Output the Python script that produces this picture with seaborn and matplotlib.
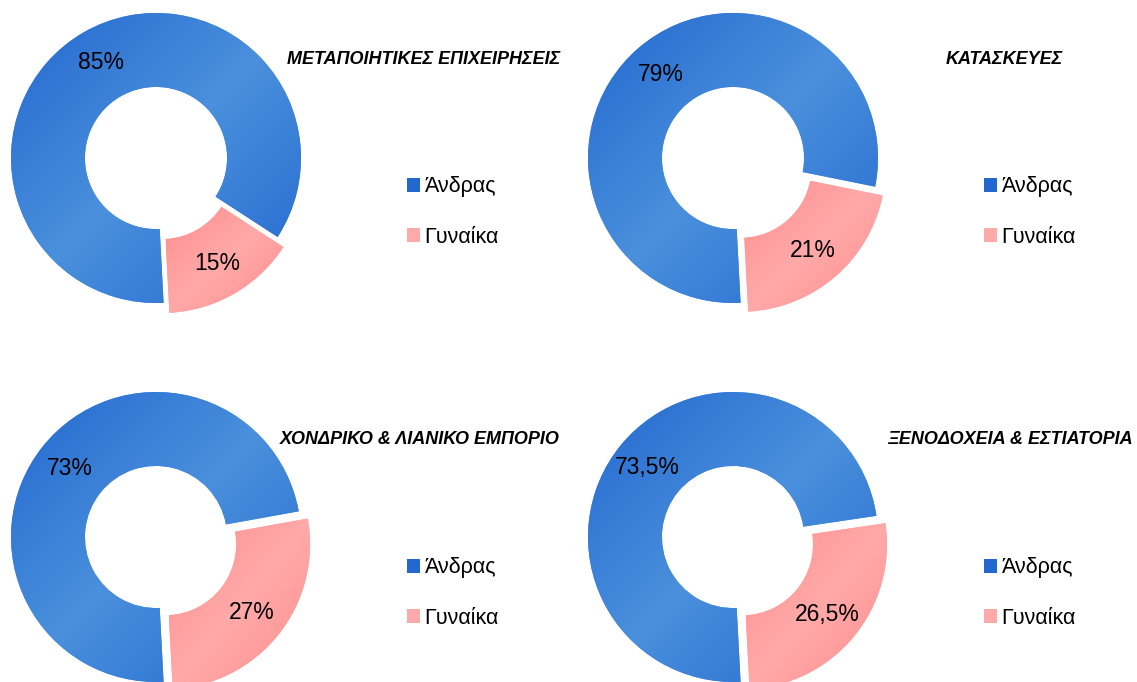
import numpy as np
import matplotlib
matplotlib.use("Agg")
import matplotlib.pyplot as plt
import seaborn as sns
from matplotlib.patches import Patch

# --- Data ---
SECTORS = [
    "ΜΕΤΑΠΟΙΗΤΙΚΕΣ ΕΠΙΧΕΙΡΗΣΕΙΣ",
    "ΚΑΤΑΣΚΕΥΕΣ",
    "ΧΟΝΔΡΙΚΟ & ΛΙΑΝΙΚΟ ΕΜΠΟΡΙΟ",
    "ΞΕΝΟΔΟΧΕΙΑ & ΕΣΤΙΑΤΟΡΙΑ",
]
GENDERS = ["Άνδρας", "Γυναίκα"]
MEN = [85, 79, 73, 73.5]
WOMEN = [15, 21, 27, 26.5]

# --- Styling / layout (pixels on a 1137x682 canvas) ---
W, H = 1137, 682
BLUE = ("#2368cf", "#4a90dc")   # dark, light
PINK = ("#ff8c8c", "#ffa9a9")
RADIUS_PX = 145
CENTERS = [(156, 158), (733, 158), (156, 537), (733, 537)]
TITLE_POS = [(560, 60), (1063, 60), (560, 440), (1133, 440)]
LEGEND_POS = [(407, 212), (984, 212), (407, 593), (984, 593)]

sns.set_theme(style="white")
plt.rcParams["font.family"] = ["Liberation Sans", "DejaVu Sans"]
plt.rcParams["text.color"] = "black"


def fmt_pct(pct):
    s = f"{pct:.1f}".rstrip("0").rstrip(".")
    return s.replace(".", ",") + "%"


def fill_gradient(ax, wedge, colors):
    """Axial diagonal gradient clipped to the wedge (dark - light - dark)."""
    ext = wedge.get_path().get_extents()
    x0, y0, x1, y1 = ext.x0, ext.y0, ext.x1, ext.y1
    n = 200
    gx, gy = np.meshgrid(np.linspace(0, 1, n), np.linspace(0, 1, n))
    t = (gx + (1 - gy)) / 2  # top-left -> bottom-right
    val = np.abs(2 * t - 1)
    cmap = sns.blend_palette([colors[1], colors[0]], as_cmap=True)
    im = ax.imshow(val, extent=[x0, x1, y0, y1], origin="lower", cmap=cmap,
                   vmin=0, vmax=1, interpolation="bilinear", zorder=2)
    im.set_clip_path(wedge)


fig = plt.figure(figsize=(W / 100, H / 100), dpi=100)

side = 2.5 * RADIUS_PX  # pie() sets limits to +-1.25
for i, sector in enumerate(SECTORS):
    cx, cy = CENTERS[i]
    ax = fig.add_axes([(cx - side / 2) / W, 1 - (cy + side / 2) / H, side / W, side / H])
    wedges, texts, autotexts = ax.pie(
        [MEN[i], WOMEN[i]],
        colors=[BLUE[1], PINK[1]],
        startangle=273,
        counterclock=False,
        explode=[0, 0.08],
        autopct=fmt_pct,
        pctdistance=0.76,
        wedgeprops=dict(width=0.51, linewidth=0),
        textprops=dict(fontsize=16.5, color="black"),
    )
    for w, c in zip(wedges, [BLUE, PINK]):
        fill_gradient(ax, w, c)
    for t in autotexts:
        t.set_zorder(5)
    ax.set_xlim(-1.25, 1.25)
    ax.set_ylim(-1.25, 1.25)
    ax.set_aspect("equal")
    ax.axis("off")

    tx, ty = TITLE_POS[i]
    fig.text(tx / W, 1 - ty / H, sector, ha="right", va="center", color="black",
             fontsize=13, fontweight="bold", fontstyle="italic")

    handles = [Patch(facecolor=BLUE[0], edgecolor="none"),
               Patch(facecolor=PINK[1], edgecolor="none")]
    lx, ly = LEGEND_POS[i]
    fig.legend(handles, GENDERS, loc="center left",
               bbox_to_anchor=(lx / W, 1 - ly / H), frameon=False,
               fontsize=15.5, handlelength=0.62, handleheight=0.62,
               handletextpad=0.2, labelspacing=1.35, borderpad=0,
               borderaxespad=0, labelcolor="black")

fig.savefig("out.png", dpi=100)
